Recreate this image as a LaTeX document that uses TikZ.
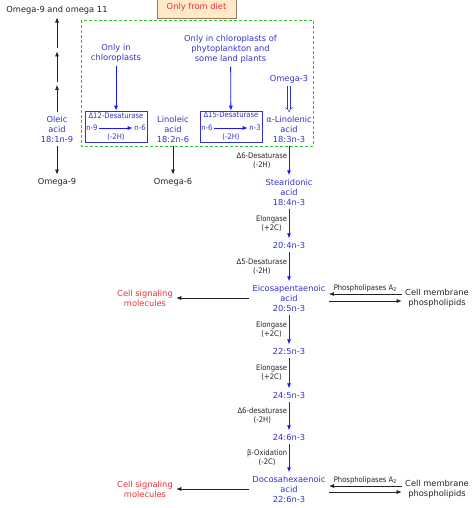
\documentclass[tikz,border=0pt]{standalone}
\usepackage{fontspec}
\setmainfont{DejaVu Sans}
\newfontfamily\enzfamily[FakeStretch=0.9]{DejaVu Sans}
\usetikzlibrary{arrows.meta,positioning}
\definecolor{acidblue}{RGB}{51,51,204}
\definecolor{pathblue}{RGB}{25,25,255}
\definecolor{sigred}{RGB}{235,45,55}
\definecolor{textdark}{RGB}{35,35,35}
\definecolor{dietgreen}{RGB}{40,200,40}
\definecolor{dietfill}{RGB}{255,233,200}
\definecolor{dietline}{RGB}{150,120,100}
\def\mainsz{\fontsize{8.3}{10}\selectfont}
\def\enzsz{\enzfamily\fontsize{7.6}{9}\selectfont}

\begin{document}
\begin{tikzpicture}[x=1pt,y=-1pt,node distance=53pt,on grid,
	acid/.style={text=acidblue,align=center,font=\mainsz},
	plain/.style={text=textdark,align=center,font=\mainsz},
	sig/.style={text=sigred,align=center,font=\mainsz},
	enz/.style={text=textdark,align=center,font=\enzsz,inner sep=1.5pt},
	boxtxt/.style={text=acidblue,font=\enzsz,inner sep=1.5pt},
	dbox/.style={draw=acidblue,line width=0.6pt,minimum width=62pt,minimum height=31pt},
	chain/.style={pathblue,line width=0.8pt,-{Latex[length=5pt,width=4pt]}},
	blk/.style={textdark,line width=0.6pt,-{Latex[length=5pt,width=4pt]}}]
\useasboundingbox (0,0) rectangle (474,508);

% diet part
\node[draw=dietline,fill=dietfill,text=sigred,font=\mainsz,minimum width=79pt,minimum height=21pt]	(diet)	at (196.5,7.5)	{Only from diet};
\draw[dietgreen,line width=0.9pt,dash pattern=on 3pt off 2pt] (81,20) rectangle (313,146);

\node[plain]					(q_o911)	at (57,10)			{Omega-9 and omega 11};
\node[acid]						(f_ole)		at (57,129)			{Oleic\\acid\\18:1n-9};
\node[plain]					(q_o9)		at (57,182)			{Omega-9};
\node[acid]						(f_lin)		at (173,129)		{Linoleic\\acid\\18:2n-6};
\node[plain]					(q_o6)		at (173,182)		{Omega-6};
\node[acid]						(f_ala)		at (289,129)		{α-Linolenic\\acid\\18:3n-3};
\node[acid]						(q_o3)		at (289,79)			{Omega-3};
\node[acid]						(q_chl)		at (116,53.5)		{Only in\\chloroplasts};
\node[acid]						(q_phy)		at (230.5,49)		{Only in chloroplasts of\\phytoplankton and\\some land plants};

% desaturase boxes
\node[dbox]						(d12)		at (116,126.5)		{};
\node[boxtxt,anchor=north]		(d12_t)		at (d12.north)		{Δ12-Desaturase};
\node[boxtxt,anchor=west]		(d12_a)		at ([yshift=-1.5pt]d12.west)	{n-9};
\node[boxtxt,anchor=east]		(d12_b)		at ([yshift=-1.5pt]d12.east)	{n-6};
\node[boxtxt,anchor=south]		(d12_h)		at (d12.south)		{(-2H)};
\node[dbox]						(d15)		at (231,126.5)		{};
\node[boxtxt,anchor=north]		(d15_t)		at (d15.north)		{Δ15-Desaturase};
\node[boxtxt,anchor=west]		(d15_a)		at ([yshift=-1.5pt]d15.west)	{n-6};
\node[boxtxt,anchor=east]		(d15_b)		at ([yshift=-1.5pt]d15.east)	{n-3};
\node[boxtxt,anchor=south]		(d15_h)		at (d15.south)		{(-2H)};

% n-3 chain
\node[acid]						(f_sda)		[below=63pt of f_ala]	{Stearidonic\\acid\\18:4n-3};
\node[acid]						(f_eta)		[below=of f_sda]		{20:4n-3};
\node[acid]						(f_epa)		[below=of f_eta]		{Eicosapentaenoic\\acid\\20:5n-3};
\node[acid]						(f_dpa)		[below=of f_epa]		{22:5n-3};
\node[acid]						(f_tpa)		[below=44pt of f_dpa]	{24:5n-3};
\node[acid]						(f_thx)		[below=42pt of f_tpa]	{24:6n-3};
\node[acid]						(f_dha)		[below=52pt of f_thx]	{Docosahexaenoic\\acid\\22:6n-3};

\node[sig]						(q_sig1)	[left=144pt of f_epa]	{Cell signaling\\molecules};
\node[plain]					(q_mem1)	[right=148pt of f_epa]	{Cell membrane\\phospholipids};
\node[sig]						(q_sig2)	[left=144pt of f_dha]	{Cell signaling\\molecules};
\node[plain]					(q_mem2)	[right=148pt of f_dha]	{Cell membrane\\phospholipids};

\coordinate (o_1) at (57,83.5);
\coordinate (o_2) at (57,50);

\path[chain]
(f_ala)		edge	node[enz,left]	{Δ6-Desaturase\\(-2H)}		(f_sda)
(f_sda)		edge	node[enz,left]	{Elongase\\(+2C)}			(f_eta)
(f_eta)		edge	node[enz,left]	{Δ5-Desaturase\\(-2H)}		(f_epa)
(f_epa)		edge	node[enz,left]	{Elongase\\(+2C)}			(f_dpa)
(f_dpa)		edge	node[enz,left]	{Elongase\\(+2C)}			(f_tpa)
(f_tpa)		edge	node[enz,left]	{Δ6-desaturase\\(-2H)}		(f_thx)
(f_thx)		edge	node[enz,left]	{β-Oxidation\\(-2C)}		(f_dha)
(q_chl)		edge									(d12)
(q_phy)		edge									(d15)
(d12_a)		edge									(d12_b)
(d15_a)		edge									(d15_b)
;
\draw[acidblue,line width=0.5pt,double,double distance=2.2pt,-{Implies}] (q_o3) -- (f_ala);

\path[blk]
(f_ole)		edge	[shorten >=1.5pt]					(o_1)
(o_1)		edge	[shorten <=1.5pt,shorten >=1.5pt]	(o_2)
(o_2)		edge	[shorten <=1.5pt]					(q_o911)
(f_ole)		edge									(q_o9)
(f_lin)		edge									(q_o6)
(f_epa)		edge									(q_sig1)
(f_dha)		edge									(q_sig2)
([yshift=4pt]q_mem1.west)	edge	node[enz,above]	{Phospholipases A\textsubscript{2}}	([yshift=4pt]f_epa.east)
([yshift=-3pt]f_epa.east)	edge									([yshift=-3pt]q_mem1.west)
([yshift=3pt]q_mem2.west)	edge	node[enz,above]	{Phospholipases A\textsubscript{2}}	([yshift=3pt]f_dha.east)
([yshift=-3pt]f_dha.east)	edge									([yshift=-3pt]q_mem2.west)
;
\end{tikzpicture}
\end{document}
